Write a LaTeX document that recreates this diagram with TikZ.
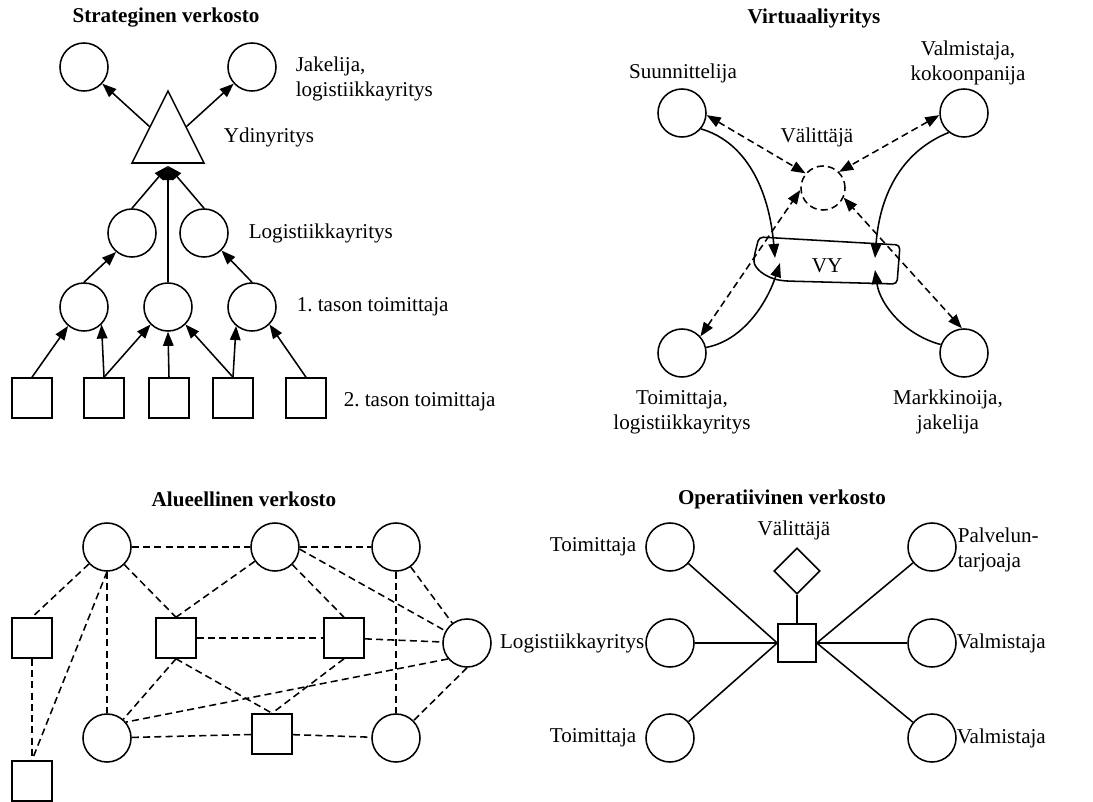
\documentclass[tikz,border=0pt]{standalone}
\usepackage{fontspec}
\setmainfont{Liberation Serif}
\usetikzlibrary{arrows.meta,shapes.geometric}
\frenchspacing

\tikzset{
  ymp/.style={draw,circle,minimum size=1.2cm,inner sep=0pt},
  nel/.style={draw,rectangle,minimum size=1cm,inner sep=0pt},
  nimi/.style={inner sep=0pt,align=left},
  otsikko/.style={inner sep=0pt,font=\fontsize{15}{18}\selectfont\bfseries},
  nuoli/.style={-{Triangle[length=10pt,width=7.5pt]}},
  kaksi/.style={{Triangle[length=10pt,width=7.5pt]}-{Triangle[length=10pt,width=7.5pt]}},
  katko/.style={dash pattern=on 5pt off 3pt},
}

\begin{document}
\begin{tikzpicture} [x=0.025cm,y=-0.025cm,line width=1.1pt,font=\fontsize{15}{18}\selectfont]%verkostot
\useasboundingbox (0,0) rectangle (1093,802);

%strateginen
\node [otsikko] (ot1) at (166,18) {Strateginen verkosto};
\node [ymp] (j1) at (84,67) {};
\node [ymp] (j2) at (252,67) {};
\draw (168,91) coordinate (yk) -- (204,163) coordinate (yo) -- (132,163) coordinate (yv) -- cycle;
\coordinate (ys1) at (150,127);
\coordinate (ys2) at (186,127);
\coordinate (ya) at (168,166);
\node [ymp] (m1) at (132,233) {};
\node [ymp] (m2) at (204,233) {};
\foreach \i/\x in {1/84,2/168,3/252} {
\node [ymp] (k\i) at (\x,307) {};}
\foreach \i/\x in {1/32,2/104,3/169,4/233,5/306} {
\node [nel] (n\i) at (\x,398) {};}

\node [nimi,anchor=west] (jl) at (295,79) {Jakelija,\\logistiikkayritys};
\node [nimi,anchor=west] (yl) at (223,137) {Ydinyritys};
\node [nimi,anchor=west] (ml) at (248,233) {Logistiikkayritys};
\node [nimi,anchor=west] (kl) at (296,307) {1. tason toimittaja};
\node [nimi,anchor=west] (nl) at (343,402) {2. tason toimittaja};

\draw [nuoli] (ys1) -- (j1);
\draw [nuoli] (ys2) -- (j2);
\draw [nuoli] (m1.north) -- (ya);
\draw [nuoli] (m2.north) -- (ya);
\draw [nuoli] (k2.north) -- (ya);
\draw [nuoli] (k1.north) -- (m1.-130);
\draw [nuoli] (k3.north) -- (m2.-45);
\draw [nuoli] (n1.north) -- (k1.-130);
\draw [nuoli] (n2.north) -- (k1.-45);
\draw [nuoli] (n2.north) -- (k2.-135);
\draw [nuoli] (n3.north) -- (k2.south);
\draw [nuoli] (n4.north) -- (k2.-45);
\draw [nuoli] (n4.north) -- (k3.-130);
\draw [nuoli] (n5.north) -- (k3.-45);

%virtuaaliyritys
\node [otsikko] (ot2) at (814,18) {Virtuaaliyritys};
\node [ymp] (su) at (682,113) {};
\node [ymp] (va) at (964,113) {};
\node [ymp] (to) at (682,353) {};
\node [ymp] (ma) at (964,353) {};
\node [draw,circle,katko,minimum size=1.1cm,inner sep=0pt] (vl) at (823,188) {};
\node [nimi,align=center] (sul) at (683,73) {Suunnittelija};
\node [nimi,align=center] (val) at (968,63) {Valmistaja,\\kokoonpanija};
\node [nimi,align=center] (vll) at (817,137) {Välittäjä};
\node [nimi,align=center] (tol) at (682,412) {Toimittaja,\\logistiikkayritys};
\node [nimi,align=center] (mal) at (948,412) {Markkinoija,\\jakelija};

\node [inner sep=0pt] (vy) at (827,266) {VY};
\draw [rounded corners=3pt] (759,237) -- (900,245) -- (897,284) -- (785,281)
  .. controls (765,278) and (754,268) .. (754,257) -- cycle;
\coordinate (vy1) at (775,258);
\coordinate (vy2) at (780,263);
\coordinate (vy3) at (875,258);
\coordinate (vy4) at (875,270);

\draw [nuoli] (su.-40) .. controls (740,140) and (768,180) .. (vy1);
\draw [nuoli] (to.13) .. controls (745,340) and (768,300) .. (vy2);
\draw [nuoli] (va.-128) .. controls (905,150) and (880,190) .. (vy3);
\draw [nuoli] (ma.160) .. controls (905,335) and (880,305) .. (vy4);

\draw [kaksi,katko] (su.-5) -- (vl.140);
\draw [kaksi,katko] (va.185) -- (vl.45);
\draw [kaksi,katko] (to.42) -- (vl.185);
\draw [kaksi,katko] (ma.95) -- (vl.-25);

%alueellinen
\node [otsikko] (ot3) at (244,499) {Alueellinen verkosto};
\node [ymp] (a1) at (107,547) {};
\node [ymp] (a2) at (275,547) {};
\node [ymp] (a3) at (396,547) {};
\node [ymp] (a4) at (467,643) {};
\node [ymp] (a5) at (107,738) {};
\node [ymp] (a6) at (396,738) {};
\node [nel] (s1) at (32,638) {};
\node [nel] (s2) at (176,638) {};
\node [nel] (s3) at (344,638) {};
\node [nel] (s4) at (272,734) {};
\node [nel] (s5) at (32,781) {};

\begin{scope}[katko]
\draw (a1) -- (a2);
\draw (a2) -- (a3);
\draw (a1) -- (s1.north);
\draw (a1.south) -- (a5.north);
\draw (a1.south) -- (s5.north);
\draw (a1) -- (s2.north);
\draw (a2) -- (s2.north);
\draw (a2) -- (s3.north);
\draw (a2.-5) -- (a4);
\draw (a3) -- (a6);
\draw (a3) -- (a4);
\draw (s1) -- (s5);
\draw (s2) -- (s3);
\draw (s3) -- (a4);
\draw (s2.south) -- (a5);
\draw (s2.south) -- (s4.north);
\draw (s3.south) -- (s4.north);
\draw (a4.-140) -- (a5.40);
\draw (a4.south) -- (a6);
\draw (a5) -- (s4);
\draw (s4) -- (a6);
\end{scope}

%operatiivinen
\node [otsikko] (ot4) at (782,499) {Operatiivinen verkosto};
\node [nel,minimum size=0.95cm] (ks) at (797,643) {};
\node [draw,diamond,minimum size=1.15cm,inner sep=0pt] (vt) at (797,571) {};
\node [nimi,align=center] (vtl) at (794,530) {Välittäjä};
\foreach \i/\y in {1/547,2/643,3/738} {
\node [ymp] (v\i) at (670,\y) {};
\node [ymp] (o\i) at (932,\y) {};
\draw (v\i) -- (ks.west);
\draw (o\i) -- (ks.east);}
\draw (vt.south) -- (ks.north);

\node [nimi,anchor=east] (v1l) at (637,547) {Toimittaja};
\node [nimi,anchor=east] (v2l) at (645,643) {Logistiikkayritys};
\node [nimi,anchor=east] (v3l) at (637,738) {Toimittaja};
\node [nimi,anchor=west] (o1l) at (957,550) {Palvelun-\\tarjoaja};
\node [nimi,anchor=west] (o2l) at (956,643) {Valmistaja};
\node [nimi,anchor=west] (o3l) at (956,738) {Valmistaja};
\end{tikzpicture}
\end{document}
